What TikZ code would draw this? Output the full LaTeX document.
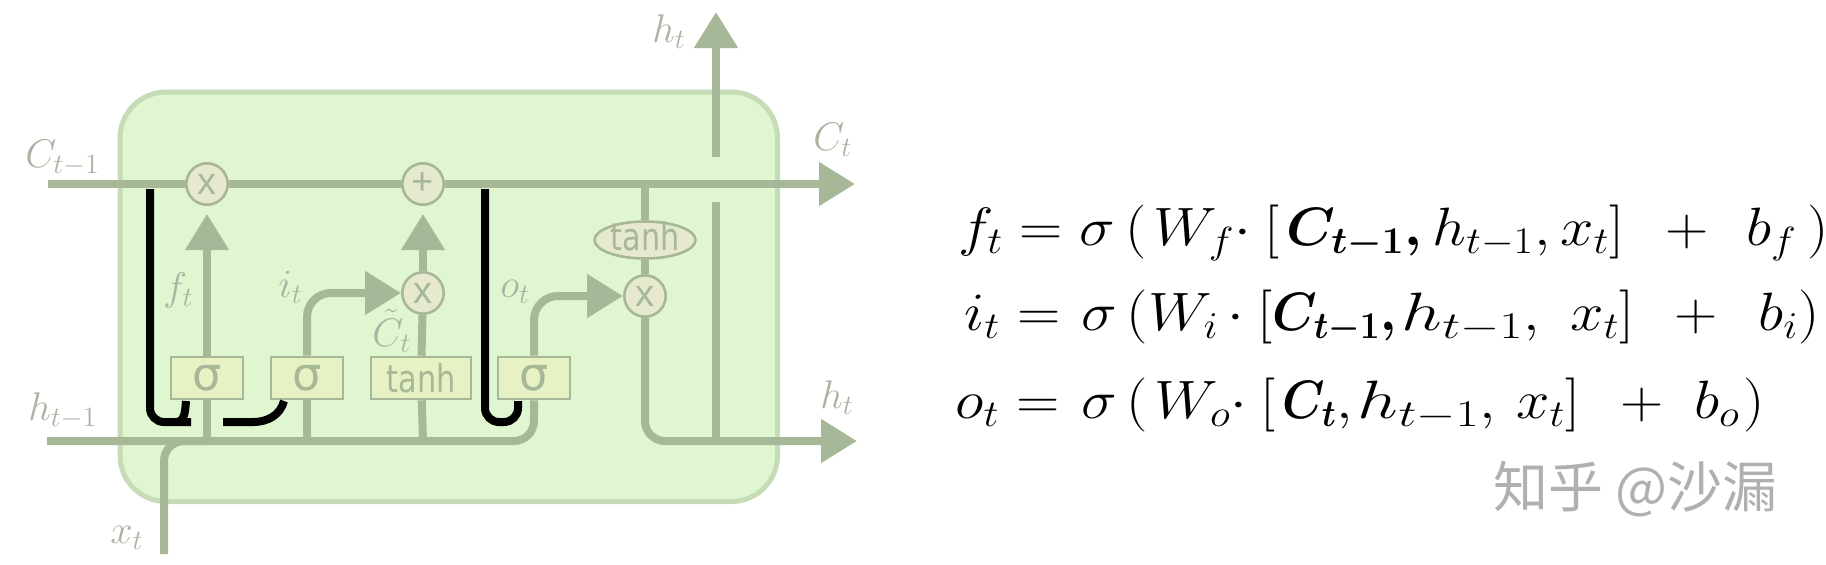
\RequirePackage{fix-cm}
\documentclass[tikz,border=0pt]{standalone}
\usepackage{fontspec}
\usepackage{amsmath}
\usepackage{graphicx}
\usetikzlibrary{arrows.meta,shapes.geometric}
\newfontfamily\dvfont{DejaVu Sans}
\newfontfamily\lsfont{Liberation Sans}
\newfontfamily\cjkfont{Noto Sans CJK SC}
\definecolor{lc}{HTML}{A6B898}
\definecolor{labc}{HTML}{ABB3A1}
\definecolor{boxfill}{HTML}{DFF6D1}
\definecolor{boxborder}{HTML}{C5DCB6}
\definecolor{opfill}{HTML}{E6E9CD}
\definecolor{gatefill}{HTML}{E7F2C4}
\definecolor{wmc}{HTML}{B0B0B0}
\tikzset{
  flow/.style={draw=lc, line width=4pt},
  tip/.style={-{Triangle[width=21pt,length=18pt]}},
  op/.style={circle, draw=lc, line width=1.3pt, fill=opfill, minimum size=20.7pt, inner sep=0pt, text=lc, font=\lsfont\fontsize{19}{19}\selectfont},
  gate/.style={rectangle, draw=lc, line width=1.3pt, fill=gatefill, minimum width=36pt, minimum height=21pt, inner sep=0pt, text=lc},
  sig/.style={gate, font=\dvfont\fontsize{23}{23}\selectfont},
  tanhtxt/.style={font=\dvfont\fontsize{19}{19}\selectfont},
  lbl/.style={text=labc, inner sep=0pt, anchor=base west, font=\fontsize{20}{24}\selectfont},
  peep/.style={draw=black, line width=4pt},
  eqn/.style={anchor=base west, inner sep=0pt, font=\fontsize{27}{32}\selectfont},
}
\newcommand{\eqstretch}[1]{\scalebox{1.111}[1]{#1}}
\begin{document}
\begin{tikzpicture}[x=0.5pt,y=-0.5pt]
\useasboundingbox (0,0) rectangle (1826,564);
% cell
\node[draw=boxborder, fill=boxfill, line width=2.5pt, rounded corners=23pt,
      minimum width=328.75pt, minimum height=204.75pt, inner sep=0pt] (cell) at (448.75,296.75) {};
% coordinates
\coordinate (cin) at (48,184);
\coordinate (cout) at (855,184);
\coordinate (hin) at (47,441);
\coordinate (hout) at (857,441);
\coordinate (xin) at (164,554);
\coordinate (j1) at (207,441);
\coordinate (j2) at (307,441);
\coordinate (j3) at (423,441);
\coordinate (cj) at (645,184);
\coordinate (jh) at (716,441);
\coordinate (hb1) at (716,202);
\coordinate (hb2) at (716,157);
\coordinate (htop) at (716,12);
% operators
\node[op] (mulf) at (207,184) {x};
\node[op] (add) at (423,184) {+};
\node[op] (muli) at (423,293) {x};
\node[op] (mulo) at (645,296) {x};
\node[ellipse, draw=lc, line width=1.3pt, fill=opfill, minimum width=50.5pt, minimum height=18.5pt,
      inner sep=0pt, text=lc, tanhtxt, text height=10pt, text depth=0pt] (tanhE) at (645,240) {\scalebox{0.8}[1]{tanh}};
% gates
\node[sig] (sig1) at (207,378) {σ};
\node[sig] (sig2) at (307,378) {σ};
\node[gate, minimum width=50pt, tanhtxt] (tanhB) at (421,378) {\scalebox{0.8}[1]{tanh}};
\node[sig] (sig3) at (534,378) {σ};
% cell state
\draw[flow] (cin) -- (mulf);
\draw[flow] (mulf) -- (add);
\draw[flow, tip] (add) -- (cout);
% hidden / input
\draw[flow, rounded corners=10pt] (hin) -| (sig3);
\draw[flow, rounded corners=10pt] (xin) |- (j1);
\draw[flow] (j1) -- (sig1);
\draw[flow] (j2) -- (sig2);
\draw[flow] (j3) -- (tanhB);
% gates to ops
\draw[flow, tip, shorten >=4pt] (sig1) -- (mulf);
\draw[flow, tip, rounded corners=12pt] (sig2) |- (muli);
\draw[flow] (tanhB) -- (muli);
\draw[flow, tip, shorten >=4pt] (muli) -- (add);
\draw[flow, tip, rounded corners=12pt] (sig3) |- (mulo);
\draw[flow] (cj) -- (tanhE);
\draw[flow] (tanhE) -- (mulo);
\draw[flow, tip, rounded corners=10pt] (mulo) |- (hout);
\draw[flow] (jh) -- (hb1);
\draw[flow, tip] (hb2) -- (htop);
% peephole lines
\coordinate (p1a) at (150,189);
\coordinate (p1b) at (191,422);
\coordinate (p1c) at (176,422);
\coordinate (p1d) at (186,401);
\coordinate (p2a) at (223,422);
\coordinate (p2m) at (253,422);
\coordinate (p2b) at (284,401);
\coordinate (p3a) at (485,189);
\coordinate (p3m) at (518,422);
\coordinate (p3b) at (518,401);
\draw[peep, rounded corners=7pt] (p1a) |- (p1b);
\draw[peep] (p1c) to[out=0,in=-95] (p1d);
\draw[peep] (p2a) -- (p2m) to[out=0,in=-105] (p2b);
\draw[peep, rounded corners=7pt] (p3a) |- (p3m) -- (p3b);
% labels
\node[lbl] (lC1) at (25,167) {$C_{t-1}$};
\node[lbl] (lh1) at (28,420) {$h_{t-1}$};
\node[lbl] (lx) at (110,543) {$x_t$};
\node[lbl] (lf) at (163,300) {$f_t$};
\node[lbl] (li) at (278,297) {$i_t$};
\node[lbl] (lCt) at (372,346) {$\tilde{C}_t$};
\node[lbl] (lo) at (500,297) {$o_t$};
\node[lbl] (lht) at (652,42) {$h_t$};
\node[lbl] (lC) at (813,150) {$C_t$};
\node[lbl] (lh) at (820,408) {$h_t$};
% equations
\node[eqn] (eq1) at (958,245) {\eqstretch{$f_t = \sigma\,(\mkern2mu W_f{\cdot}\>[\mkern2mu\scalebox{0.92}[1]{$\boldsymbol{C_{t-1},}$}\mkern3mu h_{t-1},x_t]\hskip0.457em+\hskip0.405em b_f\mkern3mu)$}};
\node[eqn] (eq2) at (964,330) {\eqstretch{$i_t = \mkern1.3mu\sigma\,(W_i\mkern2.7mu{\cdot}\>[\scalebox{0.84}[1]{$\boldsymbol{C_{t-1},}$}\mkern1.5mu\scalebox{1.2}[1]{$h_{t-1}$},\mkern6mu x_t]\hskip0.45em+\hskip0.45em b_i)$}};
\node[eqn] (eq3) at (955,418) {\eqstretch{$o_t = \mkern1.5mu\sigma\,(\mkern2mu W_o{\cdot}\>[\mkern2mu\scalebox{0.8}[1]{$\boldsymbol{C_t}$}{,}\mkern1.5mu\scalebox{1.2}[1]{$h_{t-1}$},\mkern3mu x_t]\hskip0.44em+\hskip0.29em b_o\mkern1mu)$}};
% watermark
\node[anchor=base west, inner sep=0pt, text=wmc, font=\cjkfont\fontsize{27.5}{27.5}\selectfont] (wm) at (1493,507) {知乎 @沙漏};
\end{tikzpicture}
\end{document}
